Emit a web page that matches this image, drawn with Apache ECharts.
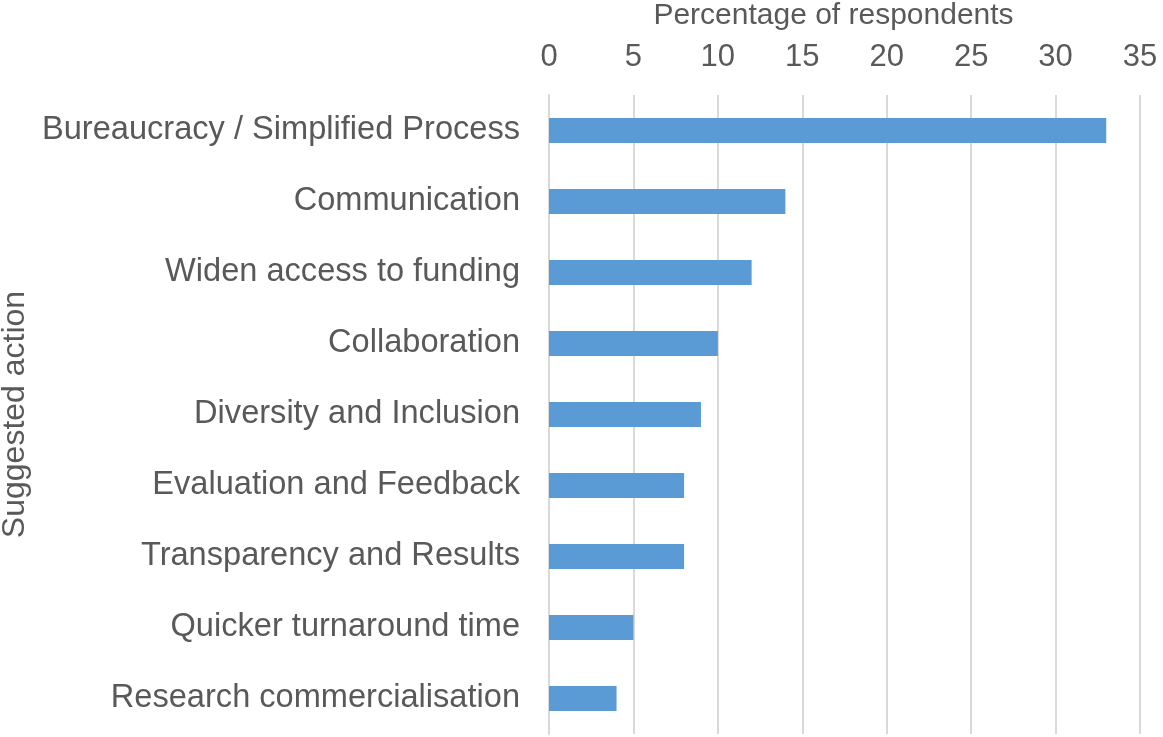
<!DOCTYPE html>
<html>
<head>
    <meta charset="UTF-8">
    <script src="https://cdn.jsdelivr.net/npm/echarts@6/dist/echarts.min.js"></script>
    <style>
        html, body { margin: 0; padding: 0; background: #fff; }
        #main { width: 1163px; height: 737px; }
    </style>
</head>
<body>
<div id="main"></div>
<script type="text/javascript">
    var categories = [
        'Bureaucracy / Simplified Process',
        'Communication',
        'Widen access to funding',
        'Collaboration',
        'Diversity and Inclusion',
        'Evaluation and Feedback',
        'Transparency and Results',
        'Quicker turnaround time',
        'Research commercialisation'
    ];
    var percentages = [33, 14, 12, 10, 9, 8, 8, 5, 4];
    var xTicks = [0, 35, 5]; // min, max, step

    var textColor = '#595959';
    var fontFamily = '"Liberation Sans", Arial, sans-serif';

    var myChart = echarts.init(document.getElementById('main'));
    var option = {
        animation: false,
        grid: {
            left: 549,
            right: 23,
            top: 95,
            bottom: 3,
            containLabel: false,
            outerBoundsMode: 'none'
        },
        xAxis: {
            type: 'value',
            position: 'top',
            min: xTicks[0],
            max: xTicks[1],
            interval: xTicks[2],
            name: 'Percentage of respondents',
            nameLocation: 'middle',
            nameGap: 64,
            nameTextStyle: {color: textColor, fontSize: 30, fontFamily: fontFamily, padding: [0, 22, 0, 0]},
            axisLine: {show: false},
            axisTick: {show: false},
            axisLabel: {color: textColor, fontSize: 31, fontFamily: fontFamily, margin: 22},
            splitLine: {lineStyle: {color: '#d9d9d9', width: 2}}
        },
        yAxis: {
            type: 'category',
            inverse: true,
            data: categories,
            name: 'Suggested action',
            nameLocation: 'middle',
            nameGap: 510,
            nameTextStyle: {color: textColor, fontSize: 32, fontFamily: fontFamily},
            axisLine: {show: true, lineStyle: {color: '#d9d9d9', width: 2}},
            axisTick: {show: false},
            axisLabel: {color: textColor, fontSize: 32.6, fontFamily: fontFamily, margin: 29}
        },
        series: [
            {
                type: 'bar',
                data: percentages,
                barWidth: 25,
                itemStyle: {color: '#5b9bd5'}
            }
        ]
    };
    myChart.setOption(option);
</script>
</body>
</html>
